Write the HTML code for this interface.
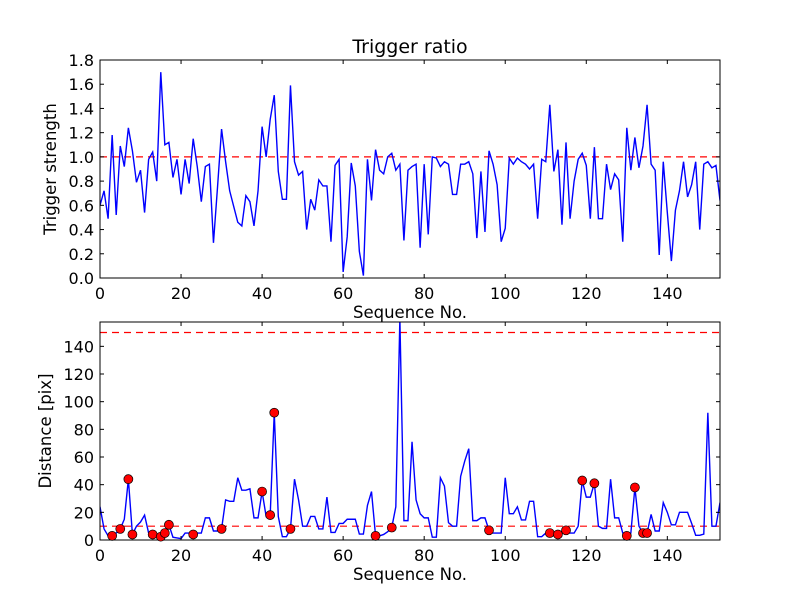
<!DOCTYPE html>
<html><head><meta charset="utf-8"><style>
body{margin:0;background:#fff;}
svg{display:block;font-family:"DejaVu Sans","Liberation Sans",sans-serif;}
</style></head><body>
<svg id="c" width="800" height="600" viewBox="0 0 800 600"></svg>
<script>
const ratioValues=[0.6,0.72,0.49,1.18,0.52,1.09,0.92,1.24,1.05,0.79,0.89,0.54,0.98,1.04,0.80,1.70,1.10,1.12,0.83,0.98,0.69,0.98,0.78,1.15,0.92,0.63,0.92,0.94,0.29,0.75,1.23,0.96,0.72,0.59,0.46,0.43,0.68,0.63,0.43,0.72,1.25,1.0,1.31,1.51,0.88,0.65,0.65,1.59,0.96,0.85,0.88,0.40,0.65,0.56,0.81,0.76,0.76,0.30,0.93,0.98,0.05,0.34,0.95,0.76,0.22,0.02,0.98,0.64,1.06,0.89,0.86,1.0,1.03,0.89,0.94,0.31,0.89,0.92,0.94,0.25,0.94,0.36,1.0,0.99,0.92,0.96,0.94,0.69,0.69,0.94,0.94,0.96,0.86,0.33,0.88,0.38,1.05,0.94,0.77,0.30,0.41,0.99,0.94,0.99,0.96,0.94,0.90,0.94,0.49,0.98,0.96,1.43,0.88,1.06,0.44,1.12,0.49,0.80,0.98,1.03,0.93,0.49,1.08,0.49,0.49,0.94,0.73,0.86,0.81,0.30,1.24,0.89,1.16,0.91,1.09,1.43,0.94,0.89,0.19,0.96,0.54,0.14,0.56,0.72,0.96,0.67,0.77,0.96,0.40,0.94,0.96,0.91,0.93,0.64];
const distValues=[24,8,3,3,5,8,15,44,4,10,13,18,5,4,4,2.4,5,11,2,1.5,1,5,5,4,5,5,16,16,6.5,6.5,8,29,28,28,45,36,36,37,16,16,35,17,18,92,17,2.4,2.4,8,44,29,10,10,17,17,8,8,31,5.5,5.5,12,12,15,15,15,4.3,4.3,25,35,3,3,4,6,9,24,160,14,14,71,29,19,16,16,2,2,45,39,12.5,10,10,46,57,66,14,14,16,16,7,5,5,5,45,19,19,24,14.5,14.5,28,28,2.4,2.4,5,5,4,4,5,7,5,5,10,43,31,31,41,10,8.4,8.4,44,16,16,5,3,5,38,10,5,5,18.5,6.5,6.5,27,20,11,11,20,20,20,12,3.4,3.4,4.3,92,10,10,27];
const markerIdx=[3,5,7,8,13,15,16,17,23,30,40,42,43,47,68,72,96,111,113,115,119,122,130,132,134,135];
const xTicks=[0,20,40,60,80,100,120,140];
const topYTicks=[0.0,0.2,0.4,0.6,0.8,1.0,1.2,1.4,1.6,1.8];
const botYTicks=[0,20,40,60,80,100,120,140];
const topThreshold=[1.0];
const botThresholds=[10,150];

const NS="http://www.w3.org/2000/svg";
const svg=document.getElementById('c');
function mk(tag,attrs,parent){const e=document.createElementNS(NS,tag);for(const k in attrs)e.setAttribute(k,attrs[k]);(parent||svg).appendChild(e);return e;}
const L=100,R=720,XMAX=153;
const xs=v=>L+(v/XMAX)*(R-L);
const topP={t:60,b:278,min:0,max:1.8};
const botP={t:322,b:540,min:0,max:157.6};
const ys=(p,v)=>p.b-(v-p.min)/(p.max-p.min)*(p.b-p.t);

function panel(p,name,yTicks,fmt,vals,thr,ylabel){
  const g=mk('g',{});
  
  
  const clipId=name+'-clip';
  const cp=mk('clipPath',{id:clipId},g);
  mk('rect',{x:L,y:p.t,width:R-L,height:p.b-p.t},cp);
  const plot=mk('g',{'clip-path':'url(#'+clipId+')'},g);
  thr.forEach(t=>{
    const l=mk('line',{x1:L,x2:R,y1:ys(p,t),y2:ys(p,t),stroke:'#ff0000','stroke-width':1.2,'stroke-dasharray':'7,5'},plot);
    
    
  });
  const pts=vals.map((v,i)=>xs(i).toFixed(2)+','+ys(p,v).toFixed(2)).join(' ');
  const pl=mk('polyline',{points:pts,fill:'none',stroke:'#0000ff','stroke-width':1.4},plot);
  
  
  mk('rect',{x:L,y:p.t,width:R-L,height:p.b-p.t,fill:'none',stroke:'#000','stroke-width':1},g);
  xTicks.forEach(t=>{
    const x=xs(t);
    mk('line',{x1:x,x2:x,y1:p.b,y2:p.b-4,stroke:'#000'},g);
    mk('line',{x1:x,x2:x,y1:p.t,y2:p.t+4,stroke:'#000'},g);
    const tx=mk('text',{x:x,y:p.b+21,'font-size':16,'text-anchor':'middle'},g);
    tx.textContent=t;
    
    
  });
  yTicks.forEach(t=>{
    const y=ys(p,t);
    mk('line',{x1:L,x2:L+4,y1:y,y2:y,stroke:'#000'},g);
    mk('line',{x1:R,x2:R-4,y1:y,y2:y,stroke:'#000'},g);
    const tx=mk('text',{x:L-6,y:y+6,'font-size':16,'text-anchor':'end'},g);
    tx.textContent=fmt(t);
    
    
  });
  const xl=mk('text',{x:(L+R)/2,y:p.b+40,'font-size':16.5,'text-anchor':'middle'},g);
  xl.textContent='Sequence No.';
  
  
  const cy=(p.t+p.b)/2;
  const yl=mk('text',{x:0,y:0,'font-size':16.5,'text-anchor':'middle',transform:'translate('+(name==='top-panel'?56:51)+','+cy+') rotate(-90)'},g);
  yl.textContent=ylabel;
  
  
  return {g,plot};
}
const tPanel=panel(topP,'top-panel',topYTicks,v=>v.toFixed(1),ratioValues,topThreshold,'Trigger strength');
const bPanel=panel(botP,'bottom-panel',botYTicks,v=>String(v),distValues,botThresholds,'Distance [pix]');
markerIdx.forEach(i=>{
  const c=mk('circle',{cx:xs(i),cy:ys(botP,distValues[i]),r:4.5,fill:'#ff0000',stroke:'#000','stroke-width':0.7},bPanel.g);
  
  
});
const title=mk('text',{x:410,y:53,'font-size':19,'text-anchor':'middle'});
title.textContent='Trigger ratio';


</script>
</body></html>
